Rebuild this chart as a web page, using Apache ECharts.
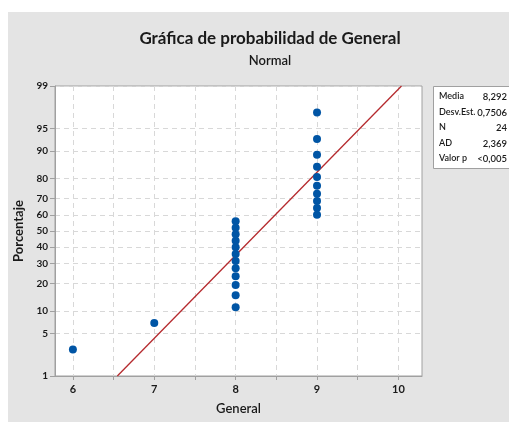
<!DOCTYPE html>
<html><head><meta charset="utf-8">
<script src="https://cdn.jsdelivr.net/npm/echarts@6/dist/echarts.min.js"></script>
<style>html,body{margin:0;padding:0;background:#fff}#c{width:509px;height:422px}</style>
</head><body><div id="c"></div>
<script>
// ---- data ----
const generalValues = [6, 7, 8, 8, 8, 8, 8, 8, 8, 8, 8, 8, 8, 8, 9, 9, 9, 9, 9, 9, 9, 9, 9, 9];
const percentValues = [2.87, 6.97, 11.07, 15.16, 19.26, 23.36, 27.46, 31.56, 35.66, 39.75, 43.85, 47.95,
  52.05, 56.15, 60.25, 64.34, 68.44, 72.54, 76.64, 80.74, 84.84, 88.93, 93.03, 97.13];
const fitLineX = [6.546, 10.038];
const fitLineP = [1, 99];
const yTickLabels = [1, 5, 10, 20, 30, 40, 50, 60, 70, 80, 90, 95, 99];
const xTickLabels = [6, 7, 8, 9, 10];
const xGridValues = [6, 6.5, 7, 7.5, 8, 8.5, 9, 9.5, 10];
const statLabels = ['Media', 'Desv.Est.', 'N', 'AD', 'Valor p'];
const statValues = ['8,292', '0,7506', '24', '2,369', '<0,005'];

// inverse normal CDF (probability scale transform)
function probit(p) {
  const a = [-3.969683028665376e+01, 2.209460984245205e+02, -2.759285104469687e+02, 1.383577518672690e+02, -3.066479806614716e+01, 2.506628277459239e+00];
  const b = [-5.447609879822406e+01, 1.615858368580409e+02, -1.556989798598866e+02, 6.680131188771972e+01, -1.328068155288572e+01];
  const c = [-7.784894002430293e-03, -3.223964580411365e-01, -2.400758277161838e+00, -2.549732539343734e+00, 4.374664141464968e+00, 2.938163982698783e+00];
  const d = [7.784695709041462e-03, 3.224671290700398e-01, 2.445134137142996e+00, 3.754408661907416e+00];
  const pl = 0.02425;
  let q, r;
  if (p < pl) { q = Math.sqrt(-2 * Math.log(p)); return (((((c[0]*q+c[1])*q+c[2])*q+c[3])*q+c[4])*q+c[5]) / ((((d[0]*q+d[1])*q+d[2])*q+d[3])*q+1); }
  if (p > 1 - pl) { q = Math.sqrt(-2 * Math.log(1 - p)); return -(((((c[0]*q+c[1])*q+c[2])*q+c[3])*q+c[4])*q+c[5]) / ((((d[0]*q+d[1])*q+d[2])*q+d[3])*q+1); }
  q = p - 0.5; r = q * q;
  return (((((a[0]*r+a[1])*r+a[2])*r+a[3])*r+a[4])*r+a[5])*q / (((((b[0]*r+b[1])*r+b[2])*r+b[3])*r+b[4])*r+1);
}
const z = pct => probit(pct / 100);
const yMin = z(1), yMax = z(99);
const yTickZ = yTickLabels.map(z);
const labelFor = v => { let best = yTickLabels[0]; let bd = 1e9; yTickLabels.forEach(t => { const dd = Math.abs(z(t) - v); if (dd < bd) { bd = dd; best = t; } }); return String(best); };

const FONT = 'Lato';
const TXT = '#1a1a1a';
const chart = echarts.init(document.getElementById('c'), null, { renderer: 'canvas' });

const statGraphics = [];
statLabels.forEach((l, i) => {
  statGraphics.push({ type: 'text', left: 439, top: 92 + i * 15.5, style: { text: l, font: '600 9px ' + FONT, fill: TXT } });
  statGraphics.push({ type: 'text', right: 2, top: 92 + i * 15.5, style: { text: statValues[i], font: '600 9.5px ' + FONT, fill: TXT, textAlign: 'right' } });
});

chart.setOption({
  animation: false,
  backgroundColor: '#ffffff',
  graphic: [
    { type: 'rect', left: 8, top: 12, shape: { width: 501, height: 410 }, style: { fill: '#e4e4e4' }, z: -10 },
    { type: 'rect', left: 433, top: 86, shape: { width: 80, height: 82 }, style: { fill: '#ffffff', stroke: '#a0a0a0', lineWidth: 1 } },
    ...statGraphics
  ],
  title: [
    { text: 'Gráfica de probabilidad de General', left: 265, top: 25, textAlign: 'center',
      textStyle: { fontFamily: FONT, fontSize: 17, fontWeight: 'bold', color: TXT } },
    { text: 'Normal', left: 265, top: 49, textAlign: 'center',
      textStyle: { fontFamily: FONT, fontSize: 13, fontWeight: 600, color: TXT } }
  ],
  grid: { left: 55, top: 86, right: 87, bottom: 46, show: true, backgroundColor: '#ffffff', borderColor: '#a0a0a0', borderWidth: 1 },
  xAxis: {
    type: 'value', min: 5.78, max: 10.29,
    name: 'General', nameLocation: 'middle', nameGap: 26,
    nameTextStyle: { fontFamily: FONT, fontSize: 13, fontWeight: 600, color: TXT },
    axisLine: { show: true, onZero: false, lineStyle: { color: '#a0a0a0' } },
    axisTick: { show: true, length: 4, customValues: xGridValues, lineStyle: { color: '#a0a0a0' } },
    axisLabel: { customValues: xTickLabels, fontFamily: FONT, fontSize: 11, fontWeight: 'bold', color: TXT, margin: 8 },
    splitLine: { show: true, lineStyle: { color: '#d8d8d8', type: [5, 4], width: 1 } }
  },
  yAxis: {
    type: 'value', min: yMin, max: yMax,
    name: 'Porcentaje', nameLocation: 'middle', nameGap: 30, nameRotate: 90,
    nameTextStyle: { fontFamily: FONT, fontSize: 13, fontWeight: 'bold', color: TXT },
    axisLine: { show: true, onZero: false, lineStyle: { color: '#a0a0a0' } },
    axisTick: { show: true, length: 5, customValues: yTickZ, lineStyle: { color: '#a0a0a0' } },
    axisLabel: { customValues: yTickZ, formatter: v => labelFor(v), fontFamily: FONT, fontSize: 10, fontWeight: 'bold', color: TXT, margin: 7 },
    splitLine: { show: true, lineStyle: { color: '#d8d8d8', type: [5, 4], width: 1 } }
  },
  series: [
    { type: 'line', data: fitLineX.map((x, i) => [x, z(fitLineP[i])]), symbol: 'none',
      lineStyle: { color: '#b52a2e', width: 1.3 }, emphasis: { disabled: true }, z: 2 },
    { type: 'scatter', data: generalValues.map((x, i) => [x, z(percentValues[i])]), symbol: 'circle', symbolSize: 8,
      itemStyle: { color: '#0055a5', opacity: 1 }, emphasis: { disabled: true }, z: 3 }
  ]
});
</script></body></html>
